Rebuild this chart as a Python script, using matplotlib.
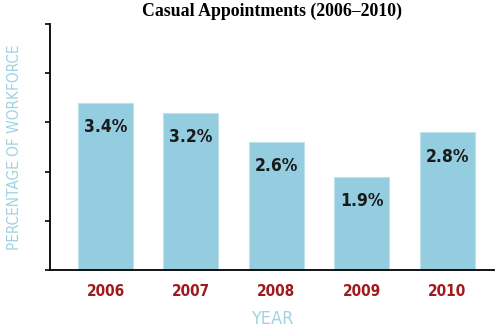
import numpy as np
import matplotlib.pyplot as plt

years = ['2006', '2007', '2008', '2009', '2010']
values = [3.4, 3.2, 2.6, 1.9, 2.8]
labels = ['3.4%', '3.2%', '2.6%', '1.9%', '2.8%']

cond = dict(family=['DejaVu Sans'], fontstretch='condensed')
blue = '#93cddf'
red = '#a0191d'
light = '#9fd2e2'

fig = plt.figure(figsize=(5, 3.36), dpi=100)
ax = fig.add_axes([0.1, 0.1964, 0.888, 0.7321])

x = np.arange(len(years))
bars = ax.bar(x, values, width=0.645, color=blue, edgecolor='#bfe2ec', linewidth=0.8)

for xi, v, lab in zip(x, values, labels):
    ax.annotate(lab, (xi, v), xytext=(0, -17.5), textcoords='offset points',
                ha='center', va='center', fontsize=12.5, fontweight='bold',
                color='#1a1a1a', **cond)

ax.set_xlim(-0.65, 4.55)
ax.set_ylim(0, 5)
ax.set_yticks(np.arange(0, 6, 1))
ax.set_yticklabels([])
ax.set_xticks(x)
ax.set_xticklabels(years, fontsize=11, color=red, fontweight='semibold', **cond)
ax.tick_params(axis='x', length=0, pad=10)
ax.tick_params(axis='y', length=3.6, width=1.2, direction='out')

for s in ['top', 'right']:
    ax.spines[s].set_visible(False)
ax.spines['left'].set_linewidth(1.3)
ax.spines['bottom'].set_linewidth(1.3)

ax.set_ylabel('PERCENTAGE OF WORKFORCE', fontsize=11, color=light,
              labelpad=13, **cond)
ax.set_xlabel('YEAR', fontsize=13, color=light, labelpad=8, **cond)
ax.set_title('Casual Appointments (2006–2010)', family=['Liberation Serif'],
             fontsize=12.8, fontweight='bold', pad=6)

fig.savefig('out.png', dpi=100)
